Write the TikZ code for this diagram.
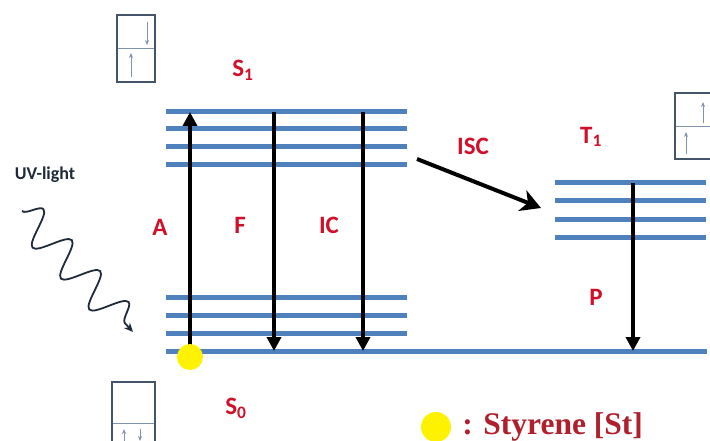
\documentclass[tikz,border=0pt]{standalone}
\usepackage{fontspec}
\setmainfont{Liberation Serif}
\setsansfont{Carlito}
\usetikzlibrary{arrows.meta,decorations.pathmorphing,positioning}
\definecolor{lvlblue}{HTML}{4F81BD}
\definecolor{lblred}{HTML}{D0102A}
\definecolor{keyred}{HTML}{B0202C}
\definecolor{boxgray}{HTML}{44546A}
\definecolor{spingray}{HTML}{7F93AD}
\definecolor{uvgray}{HTML}{1F2A3A}
\tikzset{
 lvl/.style={lvlblue, line width=5pt},
 trans/.style={line width=4pt, -{Triangle[length=14pt,width=14pt]}},
 lbl/.style={lblred, font=\sffamily\bfseries\fontsize{25}{25}\selectfont},
 orb/.style={boxgray, line width=2pt},
 divider/.style={spingray, line width=1pt},
 spinarr/.style={spingray, line width=1pt, -{Stealth[length=5pt,width=4pt]}},
 wave/.style={uvgray, line width=1.8pt, decorate,
   decoration={snake, segment length=42pt, amplitude=17pt, pre length=0pt, post length=8pt},
   -{Stealth[length=9pt,width=8pt]}},
}
\begin{document}
\begin{tikzpicture}[x=1pt,y=-1pt]
 \clip (0,0) rectangle (710,441);
 % levels
 \foreach \y in {112,129,147,165}{
    \draw [lvl](166,\y) -- (407,\y);
 }
 \foreach \y in {297,315,333}{
    \draw [lvl](166,\y) -- (407,\y);
 }
 \draw [lvl](166,351) -- (707,351);
 \foreach \y in {183,201,219,237}{
    \draw [lvl](555,\y) -- (706,\y);
 }

 % transitions
 \coordinate (a0) at (190,351);  \coordinate (a1) at (190,112);
 \coordinate (f1) at (274,112);  \coordinate (f0) at (274,351);
 \coordinate (ic1) at (363,112); \coordinate (ic0) at (363,351);
 \coordinate (isc0) at (417,159); \coordinate (isc1) at (541,208);
 \coordinate (p1) at (633,183);  \coordinate (p0) at (633,351);
 \draw [trans] (a0) -- (a1);
 \draw [trans] (f1) -- (f0);
 \draw [trans] (ic1) -- (ic0);
 \draw [trans] (p1) -- (p0);
 \draw [line width=4pt, -{Stealth[length=20pt,width=22pt,inset=6pt]}] (isc0) -- (isc1);

 \node [circle, fill=yellow, minimum size=26pt, inner sep=0] (st) at (190,357) {};

 % uv light
 \coordinate (uv0) at (22,211); \coordinate (uv1) at (133,332);
 \draw [wave] (uv0) -- (uv1);
 \node [uvgray, font=\sffamily\bfseries\fontsize{18}{18}\selectfont] (uv) at (45,175) {UV-light};

 % labels
 \node [lbl] (s1) at (243,70) {S\textsubscript{1}};
 \node [lbl] (s0) at (236,408) {S\textsubscript{0}};
 \node [lbl] (t1) at (591,137) {T\textsubscript{1}};
 \node [lbl] (la) at (160,227) {A};
 \node [lbl] (lf) at (240,225) {F};
 \node [lbl] (lic) at (329,225) {IC};
 \node [lbl] (lisc) at (473,146) {ISC};
 \node [lbl] (lp) at (596,297) {P};

 % spin boxes
 \draw [orb] (117,15) rectangle (155,82);
 \draw [divider] (118,49) -- (154,49);
 \draw [spinarr] (147,22) -- (147,45);
 \draw [spinarr] (131,77) -- (131,53);

 \draw [orb] (112,382) rectangle (155,452);
 \draw [divider] (113,423) -- (154,423);
 \draw [spinarr] (124,446) -- (124,429);
 \draw [spinarr] (140,429) -- (140,441);

 \draw [orb] (675,93) rectangle (716,159);
 \draw [divider] (676,127) -- (715,127);
 \draw [spinarr] (703,123) -- (703,102);
 \draw [spinarr] (686,154) -- (686,132);

 % key
 \node [circle, fill=yellow, minimum size=30pt, inner sep=0] (key) at (436,427) {};
 \node [right=11pt of key, inner sep=0, keyred, font=\bfseries\fontsize{31.5}{31.5}\selectfont] (keytxt) {: Styrene [St]};
\end{tikzpicture}
\end{document}
